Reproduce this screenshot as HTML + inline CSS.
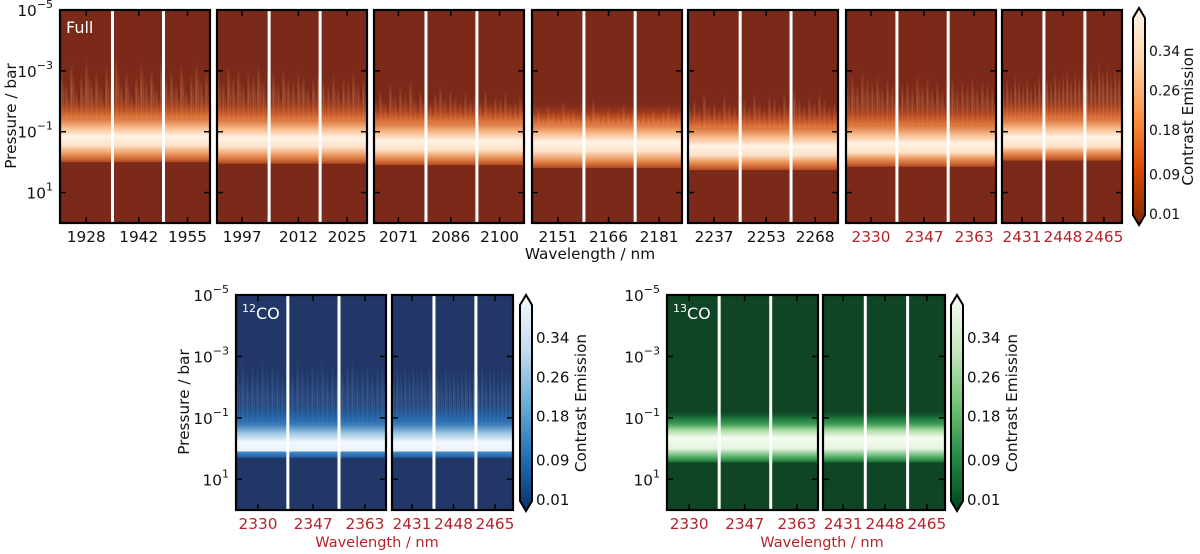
<!DOCTYPE html>
<html><head><meta charset="utf-8"><style>
html,body{margin:0;padding:0;background:#fff;width:1200px;height:554px;overflow:hidden}
svg text{font-family:"DejaVu Sans","Liberation Sans",sans-serif}
</style></head><body>
<svg id="fig" width="1200" height="554" viewBox="0 0 1200 554" xmlns="http://www.w3.org/2000/svg"></svg>
<script>
// ---------- data ----------
const fullRanges=[[1921,1961],[1990.3,2030.3],[2064,2107],[2143.3,2187.8],[2229,2275],[2322,2370],[2422.7,2472.5]];
const fullTicks=[[1928,1942,1955],[1997,2012,2025],[2071,2086,2100],[2151,2166,2181],[2237,2253,2268],[2330,2347,2363],[2431,2448,2465]];
const fullGaps=[[1935,1948.6],[2004.2,2017.8],[2078.9,2093.5],[2158.7,2173.9],[2245,2260.6],[2338.3,2354.7],[2440.1,2457.1]];
const fullCenter=[-0.85,-0.8,-0.7,-0.66,-0.53,-0.62,-0.82];
const fullLow=[0.0,0.05,0.1,0.19,0.26,0.15,-0.05];
const fullSpikes=[
[-3.1,-2.6,-3.3,-2.4,-2.9,-3.4,-2.7,-3.0,-2.5,-3.2,-2.8,-3.5,-2.6,-3.0,-2.3,-2.9,-3.3,-2.7,-3.1,-2.5,-3.4,-2.8,-3.0,-2.6,-3.2,-2.4,-2.9,-3.3,-2.7,-3.0],
[-3.0,-2.7,-3.2,-2.8,-3.1,-2.6,-3.0,-2.9,-3.2,-2.7,-2.9,-3.0,-2.6,-3.1,-2.8,-2.7,-3.0,-2.9,-2.5,-2.8,-3.0,-2.7,-2.6,-2.9,-2.5,-2.8,-2.7,-3.0,-2.6,-2.8],
[-2.1,-2.4,-2.0,-2.6,-2.2,-2.5,-2.3,-2.7,-2.1,-2.4,-2.2,-2.0,-2.3,-2.5,-2.1,-2.4,-2.2,-2.0,-2.3,-2.1,-2.2,-2.0,-2.4,-1.9,-2.2,-2.1,-2.3,-1.9,-2.0,-2.2],
[-1.6,-1.8,-1.5,-1.9,-1.7,-1.6,-2.0,-1.7,-1.8,-1.5,-1.9,-1.6,-2.1,-1.7,-1.6,-1.8,-1.5,-1.7,-1.9,-1.6,-1.8,-1.5,-1.7,-1.6,-1.8,-1.5,-1.7,-1.9,-1.6,-1.7],
[-1.9,-2.1,-1.8,-2.3,-1.9,-2.0,-1.8,-2.2,-2.0,-1.9,-2.4,-2.1,-1.9,-2.3,-2.0,-1.8,-2.2,-2.1,-1.9,-2.3,-2.0,-2.4,-2.1,-1.9,-2.2,-2.0,-2.3,-2.1,-1.9,-2.0],
[-2.7,-2.9,-2.6,-3.0,-2.8,-2.7,-2.9,-2.5,-2.8,-2.6,-2.4,-2.6,-2.7,-2.5,-2.9,-2.6,-2.8,-2.5,-2.7,-2.4,-2.6,-2.8,-2.5,-2.7,-2.6,-2.8,-2.5,-2.7,-2.6,-2.5],
[-2.6,-2.8,-2.5,-2.9,-2.7,-2.6,-2.8,-2.5,-2.7,-2.9,-2.6,-2.8,-2.7,-3.0,-2.8,-2.9,-3.1,-2.8,-3.0,-2.9,-3.2,-2.9,-3.1,-2.8,-3.3,-3.0,-3.2,-2.9,-3.1,-3.0]];
const fullTickRed=[false,false,false,false,false,true,true];

const coRanges=[[2323.2,2369.5],[2422.8,2472.4]];
const coTicks=[[2330,2347,2363],[2431,2448,2465]];
const coGaps=[[2339.2,2355],[2440,2457.2]];
const co12Center=[-0.2,-0.2];
const co12Low=[0.3,0.3];
const co12Spikes=[
[-2.7,-2.9,-2.6,-2.8,-2.7,-2.9,-2.6,-2.8,-2.7,-2.5,-2.8,-2.6,-2.9,-2.7,-2.6,-2.8,-2.7,-2.9,-2.6,-2.8,-2.7,-2.6,-2.8,-2.9,-2.6,-2.7,-2.8,-2.6,-2.7,-2.8],
[-2.6,-2.8,-2.5,-2.7,-2.6,-2.8,-2.6,-2.7,-2.5,-2.8,-2.6,-2.7,-2.5,-2.8,-2.6,-2.7,-2.5,-2.6,-2.8,-2.5,-2.7,-2.6,-2.8,-2.5,-2.7,-2.6,-2.5,-2.7,-2.6,-2.5]];
const co13Center=[-0.25,-0.25];
const co13Low=[0.45,0.45];
const cbTicks=[0.01,0.09,0.18,0.26,0.34];

// ---------- helpers ----------
const NS="http://www.w3.org/2000/svg";
const svg=document.getElementById('fig');
const FS=15.3;
function mk(tag,attrs,parent){const e=document.createElementNS(NS,tag);for(const k in attrs)e.setAttribute(k,attrs[k]);(parent||svg).appendChild(e);return e;}
const defs=mk('defs',{});
let gid=0;
function grad(stops,attrs){const id='g'+(gid++);const g=mk('linearGradient',Object.assign({id:id},attrs),defs);stops.forEach(s=>{mk('stop',{offset:s[0],'stop-color':s[1],'stop-opacity':s[2]===undefined?1:s[2]},g);});return id;}

const themes={
 orange:{bg:'#7b2a1a',streak:'#e08a55',band:[['#7b2a1a',0],['#b9461d',0.5],['#e8793a',0.8],['#f8b888',1],['#fff3e6',1],['#fde2c8',1],['#ea9155',1],['#b5491f',1]],cb:[['0','#fff5eb'],['0.25','#fdd3a7'],['0.5','#fd9243'],['0.75','#d94801'],['1','#7f2704']]},
 blue:{bg:'#213767',streak:'#4a82c0',band:[['#213767',0],['#1c5ea3',0.5],['#2d78bd',0.85],['#9cc7e4',1],['#f4f9fe',1],['#e6f0fa',1],['#4a8cc8',1],['#1a5aa0',1]],cb:[['0','#f7fbff'],['0.25','#c6dbef'],['0.5','#6baed6'],['0.75','#2171b5'],['1','#08306b']]},
 green:{bg:'#0f4424',streak:'#2a8a4a',band:[['#0f4424',0],['#1d7a3e',0.9],['#3d9d55',1],['#a8dba0',1],['#f5fbf2',1],['#e4f4de',1],['#48a85e',1],['#1c6e38',1]],cb:[['0','#f7fcf5'],['0.25','#c7e9c0'],['0.5','#74c476'],['0.75','#238b45'],['1','#00441b']]}
};

function heatPanel(o){
 const g=mk('g',{});
 
 
 const yOf=lp=>o.top+(lp+5)/7*(o.bot-o.top);
 const xOf=wl=>o.x+(wl-o.range[0])/(o.range[1]-o.range[0])*o.w;
 const th=themes[o.theme];
 const clip='c'+(gid++);
 const cp=mk('clipPath',{id:clip},defs);mk('rect',{x:o.x,y:o.top,width:o.w,height:o.bot-o.top},cp);
 const inner=mk('g',{'clip-path':'url(#'+clip+')'},g);
 mk('rect',{x:o.x,y:o.top,width:o.w,height:o.bot-o.top,fill:th.bg},inner);
 if(o.spikes){
  const sid=grad([[0,th.streak,0],[0.4,th.streak,0.35],[1,th.streak,0.75]],{x1:0,y1:0,x2:0,y2:1});
  const n=o.spikes.length,cw=o.w/n;
  o.spikes.forEach((s,i)=>{
   const r=mk('rect',{x:o.x+i*cw+0.3,y:yOf(s),width:cw*0.45,height:yOf(o.center-0.6)-yOf(s),fill:'url(#'+sid+')'},inner);
   
   
   const r2=mk('rect',{x:o.x+i*cw+cw*0.6,y:yOf(s+0.4),width:cw*0.3,height:yOf(o.center-0.6)-yOf(s+0.4),fill:'url(#'+sid+')',opacity:0.8},inner);
   
   
  });
 }
 const c=o.center,L=o.low;
 const lps=o.theme==='green'?[c-1.0,c-0.75,c-0.55,c-0.35,c-0.1,c+0.25,L-0.15,L]:[c-1.4,c-1.0,c-0.65,c-0.3,c,c+0.3,L-0.25,L];
 const y1=yOf(lps[0]),y2=yOf(L);
 const bid=grad(lps.map((lp,i)=>[(yOf(lp)-y1)/(y2-y1),th.band[i][0],th.band[i][1]]),{x1:0,y1:0,x2:0,y2:1});
 const band=mk('rect',{x:o.x,y:y1,width:o.w,height:y2-y1,fill:'url(#'+bid+')'},inner);
 
 
 o.gaps.forEach(wl=>{const l=mk('rect',{x:xOf(wl)-1.5,y:o.top,width:3,height:o.bot-o.top,fill:'#fff'},inner);
  });
 mk('rect',{x:o.x,y:o.top,width:o.w,height:o.bot-o.top,fill:'none',stroke:'#000','stroke-width':2.2},g);
 o.ticks.forEach(t=>{const X=xOf(t);
  mk('line',{x1:X,x2:X,y1:o.top,y2:o.top+6,stroke:'#000','stroke-width':1.5},g);
  mk('line',{x1:X,x2:X,y1:o.bot,y2:o.bot-6,stroke:'#000','stroke-width':1.5},g);
  const tx=mk('text',{x:X,y:o.bot+19,'text-anchor':'middle','font-size':FS,fill:o.red?'#b5222a':'#111'},g);
  tx.textContent=t;
  });
 [-5,-3,-1,1].forEach(lp=>{const Y=yOf(lp);
  mk('line',{x1:o.x,x2:o.x+6,y1:Y,y2:Y,stroke:'#000','stroke-width':1.5},g);
  mk('line',{x1:o.x+o.w,x2:o.x+o.w-6,y1:Y,y2:Y,stroke:'#000','stroke-width':1.5},g);
 });
 return {yOf};
}
function yLabels(x,top,bot){
 [-5,-3,-1,1].forEach(lp=>{const Y=top+(lp+5)/7*(bot-top);
  const t=mk('text',{x:x,y:Y+6,'text-anchor':'end','font-size':FS,fill:'#111'});
  
  const a=mk('tspan',{},t);a.textContent='10';
  const b=mk('tspan',{dy:-8,'font-size':11},t);b.textContent=(lp<0?'\u2212':'')+Math.abs(lp);
 });
}
function colorbar(x,top,bot,theme,name,labelX,tfs){
 const g=mk('g',{});
 const id=grad(themes[theme].cb.map(s=>[s[0],s[1]]),{x1:0,y1:0,x2:0,y2:1});
 const w=12,bt=top+10,bb=bot-10;
 mk('path',{d:`M${x},${bt} L${x+w/2},${top} L${x+w},${bt} L${x+w},${bb} L${x+w/2},${bot} L${x},${bb} Z`,fill:'url(#'+id+')',stroke:'#000','stroke-width':2},g);
 const vy=v=>bb-2-(v-0.01)/(0.34-0.01)*(bb-2-(bt+32));
 cbTicks.forEach(v=>{const t=mk('text',{x:x+w+4,y:vy(v)+6,'font-size':tfs,fill:'#111'},g);t.textContent=v.toFixed(2);
  });
 const l=mk('text',{x:labelX,y:(top+bot)/2,'text-anchor':'middle','font-size':FS,fill:'#111',transform:`rotate(-90 ${labelX} ${(top+bot)/2})`},g);
 l.textContent='Contrast Emission';
}
function txt(s,attrs,name){const t=mk('text',attrs);t.textContent=s;return t;}

// ---------- top row ----------
const topX=[60,217,374,532,688,846,1002],topW=[150,150,150,150,150,150,120];
fullRanges.forEach((r,i)=>{
 heatPanel({x:topX[i],w:topW[i],top:10,bot:223,range:r,ticks:fullTicks[i],gaps:fullGaps[i],center:fullCenter[i],low:fullLow[i],spikes:fullSpikes[i],theme:'orange',red:fullTickRed[i],name:'full-panel-'+(i+1)});
});
yLabels(53,10,223);
txt('Pressure / bar',{x:16,y:116,'text-anchor':'middle','font-size':FS,fill:'#111',transform:'rotate(-90 16 116)'},'y-axis-title');
txt('Wavelength / nm',{x:590,y:259,'text-anchor':'middle','font-size':FS,fill:'#111'},'x-axis-title');
txt('Full',{x:66,y:33,'font-size':16,fill:'#fff'},'panel-label-full');
colorbar(1133,8,225,'orange','colorbar-full',1193,14);

// ---------- bottom left 12CO ----------
const b12X=[236,392],bW=[150,121];
coRanges.forEach((r,i)=>{
 heatPanel({x:b12X[i],w:bW[i],top:295,bot:510,range:r,ticks:coTicks[i],gaps:coGaps[i],center:co12Center[i],low:co12Low[i],spikes:co12Spikes[i],theme:'blue',red:true,name:'co12-panel-'+(i+1)});
});
yLabels(229,295,510);
txt('Pressure / bar',{x:189,y:402,'text-anchor':'middle','font-size':FS,fill:'#111',transform:'rotate(-90 189 402)'},'y-axis-title-12co');
txt('Wavelength / nm',{x:377,y:547,'text-anchor':'middle','font-size':14.5,fill:'#b5222a'},'x-axis-title-12co');
const l12=txt('',{x:242,y:319,'font-size':16,fill:'#fff'},'panel-label-12co');
mk('tspan',{dy:-7,'font-size':11},l12).textContent='12';mk('tspan',{dy:7},l12).textContent='CO';
colorbar(520,295,511,'blue','colorbar-12co',586,15);

// ---------- bottom right 13CO ----------
const b13X=[667,823],b13W=[151,122];
coRanges.forEach((r,i)=>{
 heatPanel({x:b13X[i],w:b13W[i],top:295,bot:510,range:r,ticks:coTicks[i],gaps:coGaps[i],center:co13Center[i],low:co13Low[i],spikes:null,theme:'green',red:true,name:'co13-panel-'+(i+1)});
});
yLabels(660,295,510);
txt('Wavelength / nm',{x:822,y:547,'text-anchor':'middle','font-size':14.5,fill:'#b5222a'},'x-axis-title-13co');
const l13=txt('',{x:673,y:319,'font-size':16,fill:'#fff'},'panel-label-13co');
mk('tspan',{dy:-7,'font-size':11},l13).textContent='13';mk('tspan',{dy:7},l13).textContent='CO';
colorbar(951,295,511,'green','colorbar-13co',1017,15);
</script>
</body></html>
